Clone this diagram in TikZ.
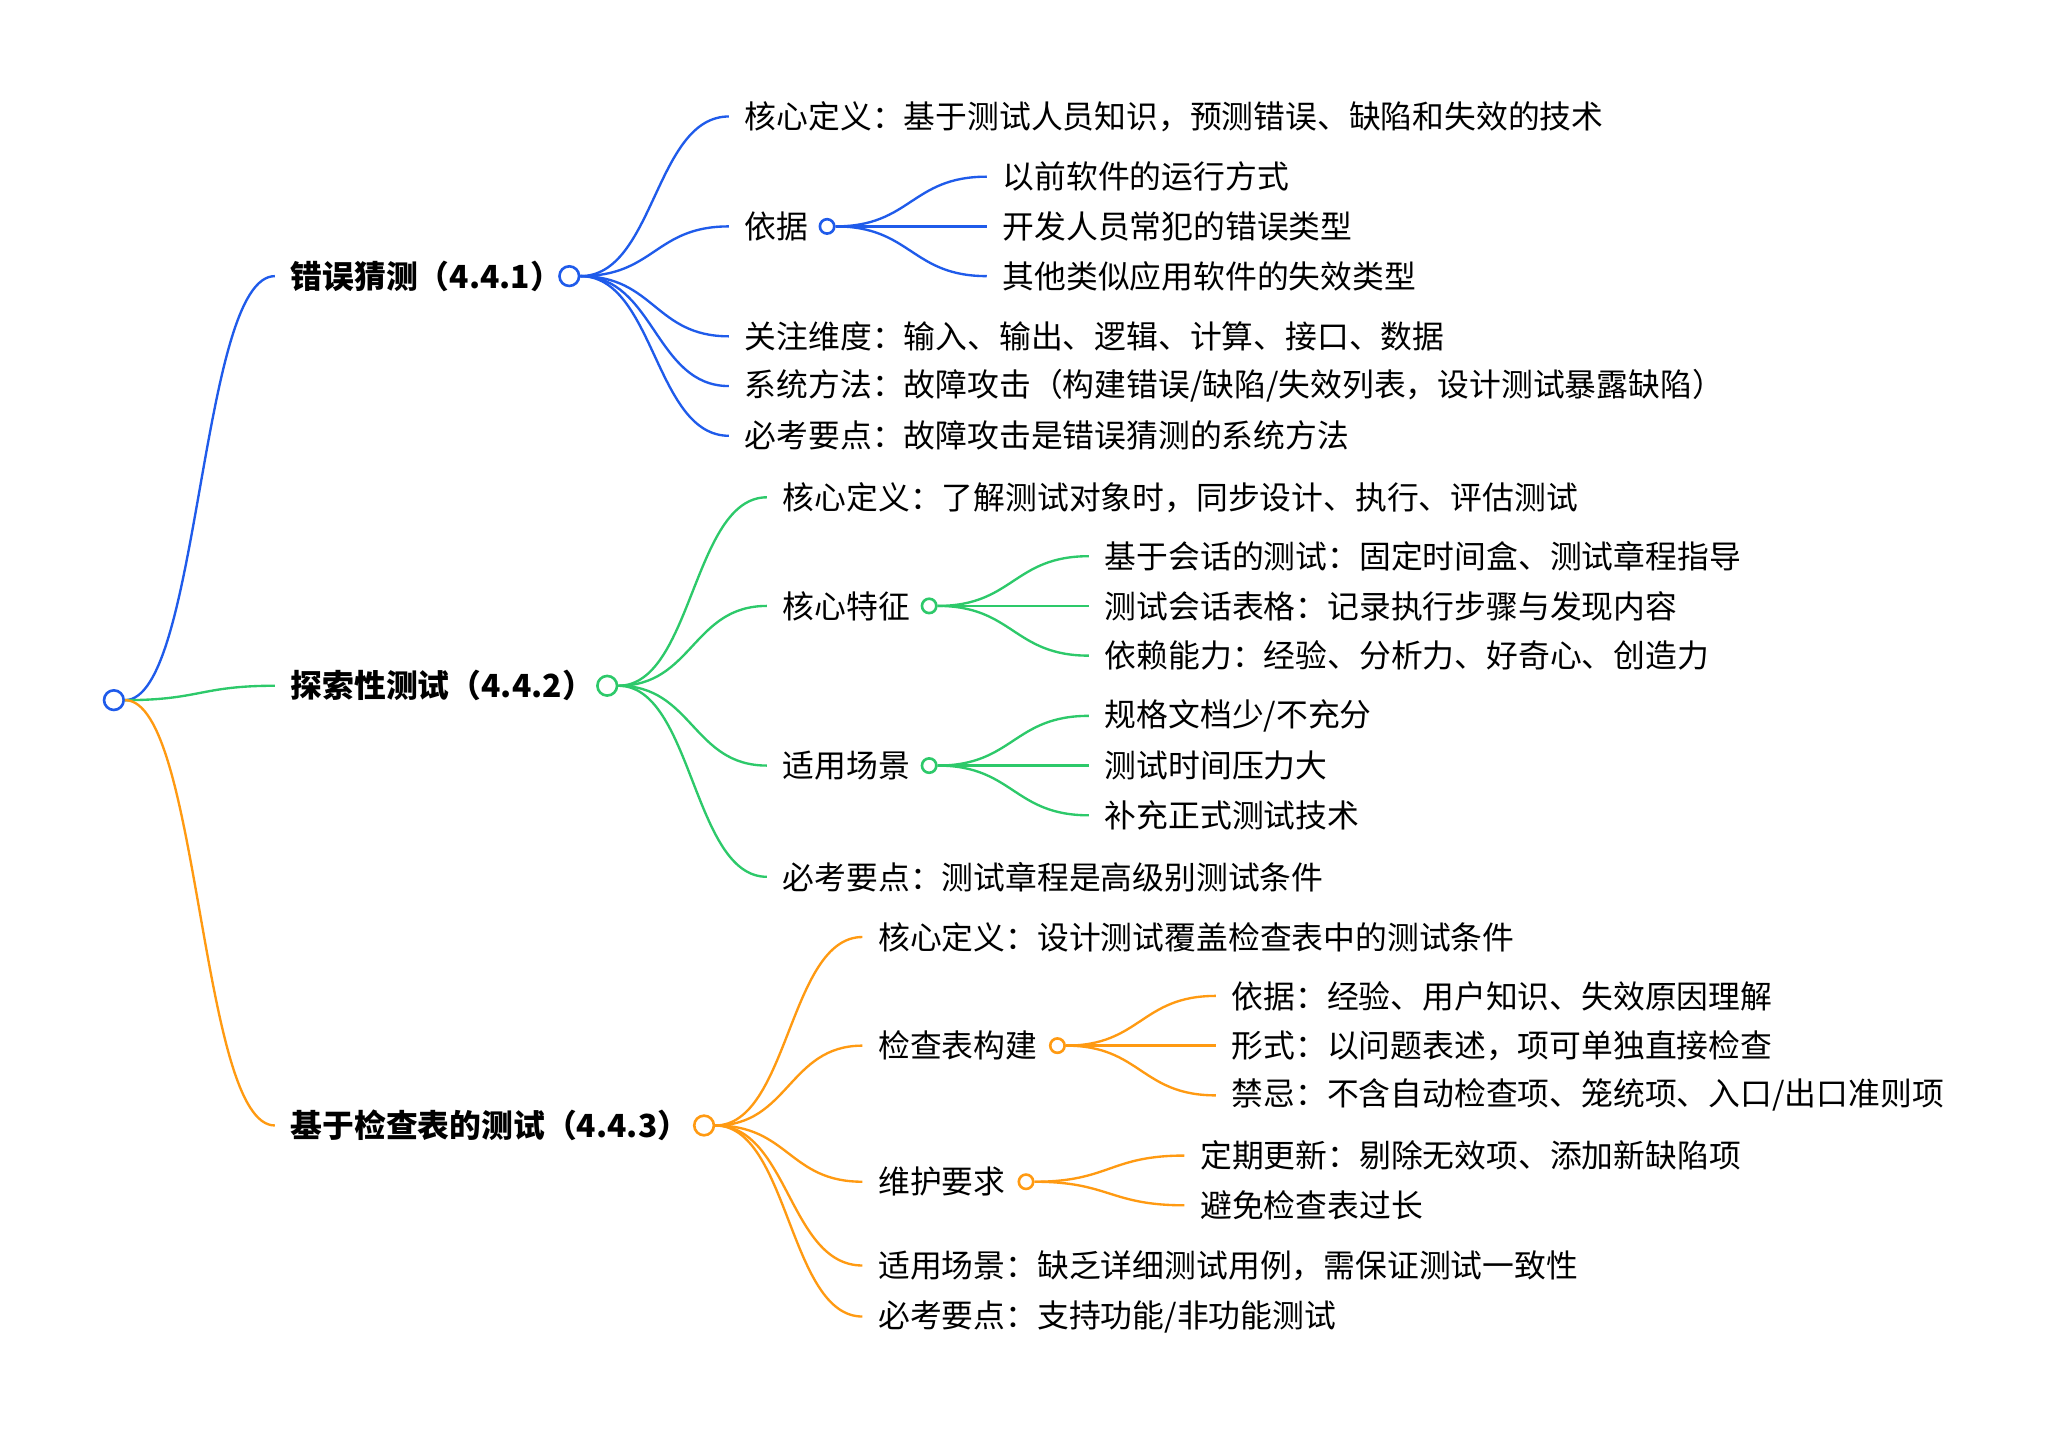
\documentclass[tikz,border=0pt]{standalone}
\usepackage{fontspec}
\setmainfont{Noto Sans CJK SC}
\usetikzlibrary{calc}
\definecolor{cb}{HTML}{1F5BEA}
\definecolor{cg}{HTML}{2DC96A}
\definecolor{co}{HTML}{FF9A12}
\tikzset{
 dot/.style={circle,draw=#1,line width=2pt,fill=white,minimum size=15pt,inner sep=0pt},
 txt/.style={anchor=west,inner xsep=12pt,inner ysep=0pt,font=\fontsize{24.3}{26}\selectfont},
 bold/.style={txt,font=\fontsize{24.3}{26}\selectfont\bfseries},
 lk/.style={line width=1.8pt,draw=#1}
}
\newcommand{\lnk}[3]{\draw[lk=#3] let \p1=(#1.east), \p2=(#2.west) in (\p1) .. controls ({0.5*\x1+0.5*\x2},\y1) and ({0.5*\x1+0.5*\x2},\y2) .. (\p2);}
\begin{document}
\begin{tikzpicture}[x=1pt,y=-1pt]
\useasboundingbox (0,0) rectangle (1568,1094);
\node[dot=cb] (root) at (87,535) {};
% level 1
\node[bold] (a) at (210,211) {错误猜测（4.4.1）};
\node[dot=cb] (ac) at (435,211) {};
\node[bold] (b) at (210,524) {探索性测试（4.4.2）};
\node[dot=cg] (bc) at (464,524) {};
\node[bold] (c) at (210,860) {基于检查表的测试（4.4.3）};
\node[dot=co] (cc) at (538,860) {};
\lnk{root}{a}{cb}\lnk{root}{b}{cg}\lnk{root}{c}{co}
% blue
\node[txt] (a1) at (557,89) {核心定义：基于测试人员知识，预测错误、缺陷和失效的技术};
\node[txt] (a2) at (557,173) {依据};
\node[dot=cb,minimum size=11pt] (a2c) at (632,173) {};
\node[txt] (a3) at (557,257) {关注维度：输入、输出、逻辑、计算、接口、数据};
\node[txt] (a4) at (557,295) {系统方法：故障攻击（构建错误/缺陷/失效列表，设计测试暴露缺陷）};
\node[txt] (a5) at (557,333) {必考要点：故障攻击是错误猜测的系统方法};
\foreach \k in {a1,a2,a3,a4,a5} {\lnk{ac}{\k}{cb}}
\node[txt] (a21) at (754,135) {以前软件的运行方式};
\node[txt] (a22) at (754,173) {开发人员常犯的错误类型};
\node[txt] (a23) at (754,211) {其他类似应用软件的失效类型};
\foreach \k in {a21,a22,a23} {\lnk{a2c}{\k}{cb}}
% green
\node[txt] (b1) at (586,380) {核心定义：了解测试对象时，同步设计、执行、评估测试};
\node[txt] (b2) at (586,463) {核心特征};
\node[dot=cg,minimum size=11pt] (b2c) at (710,463) {};
\node[txt] (b3) at (586,585) {适用场景};
\node[dot=cg,minimum size=11pt] (b3c) at (710,585) {};
\node[txt] (b4) at (586,670) {必考要点：测试章程是高级别测试条件};
\foreach \k in {b1,b2,b3,b4} {\lnk{bc}{\k}{cg}}
\node[txt] (b21) at (832,425) {基于会话的测试：固定时间盒、测试章程指导};
\node[txt] (b22) at (832,463) {测试会话表格：记录执行步骤与发现内容};
\node[txt] (b23) at (832,501) {依赖能力：经验、分析力、好奇心、创造力};
\foreach \k in {b21,b22,b23} {\lnk{b2c}{\k}{cg}}
\node[txt] (b31) at (832,547) {规格文档少/不充分};
\node[txt] (b32) at (832,585) {测试时间压力大};
\node[txt] (b33) at (832,623) {补充正式测试技术};
\foreach \k in {b31,b32,b33} {\lnk{b3c}{\k}{cg}}
% orange
\node[txt] (c1) at (659,716) {核心定义：设计测试覆盖检查表中的测试条件};
\node[txt] (c2) at (659,799) {检查表构建};
\node[dot=co,minimum size=11pt] (c2c) at (808,799) {};
\node[txt] (c3) at (659,903) {维护要求};
\node[dot=co,minimum size=11pt] (c3c) at (784,903) {};
\node[txt] (c4) at (659,967) {适用场景：缺乏详细测试用例，需保证测试一致性};
\node[txt] (c5) at (659,1006) {必考要点：支持功能/非功能测试};
\foreach \k in {c1,c2,c3,c4,c5} {\lnk{cc}{\k}{co}}
\node[txt] (c21) at (929,761) {依据：经验、用户知识、失效原因理解};
\node[txt] (c22) at (929,799) {形式：以问题表述，项可单独直接检查};
\node[txt] (c23) at (929,837) {禁忌：不含自动检查项、笼统项、入口/出口准则项};
\foreach \k in {c21,c22,c23} {\lnk{c2c}{\k}{co}}
\node[txt] (c31) at (905,883) {定期更新：剔除无效项、添加新缺陷项};
\node[txt] (c32) at (905,921) {避免检查表过长};
\foreach \k in {c31,c32} {\lnk{c3c}{\k}{co}}
\end{tikzpicture}
\end{document}
